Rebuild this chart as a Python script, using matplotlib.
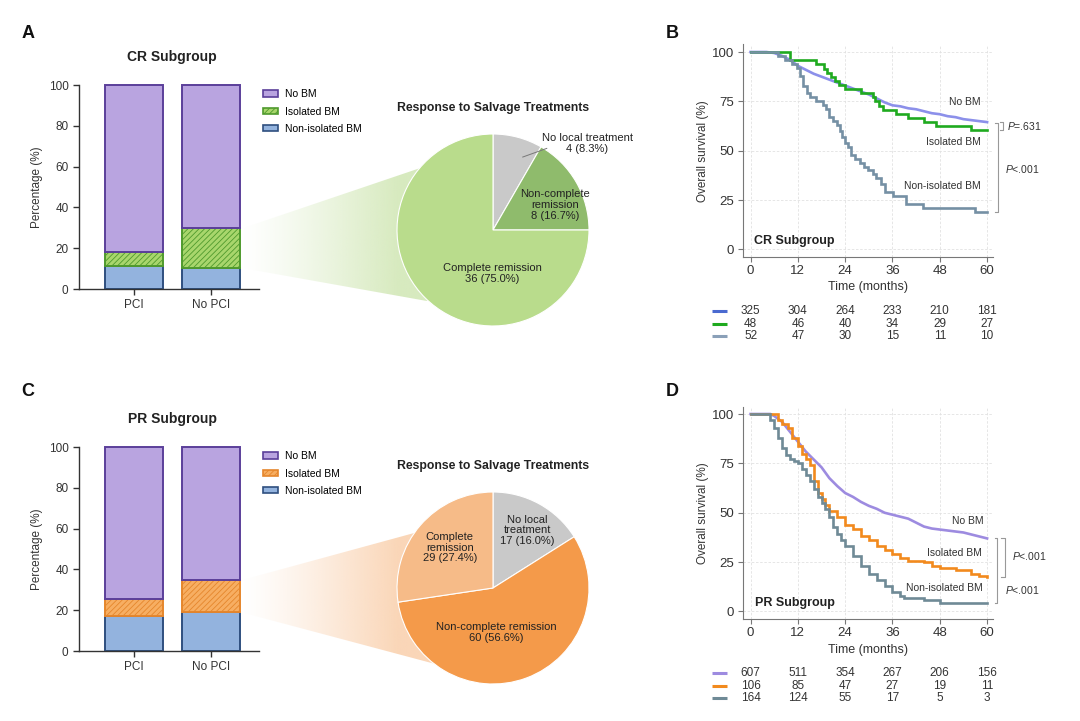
import numpy as np
import matplotlib
matplotlib.use("Agg")
import matplotlib.pyplot as plt
from matplotlib.patches import Polygon, Patch

plt.rcParams["font.family"] = ["Liberation Sans", "DejaVu Sans"]
plt.rcParams["mathtext.fontset"] = "custom"
plt.rcParams["mathtext.it"] = "Liberation Sans:italic"
plt.rcParams["mathtext.rm"] = "Liberation Sans"
plt.rcParams["hatch.linewidth"] = 0.6

W, H = 1080, 721

# ---- bar data (percent of patients)
groups = ["PCI", "No PCI"]
cr_non_isolated = [11.3, 10.3]
cr_isolated = [6.9, 19.4]
pr_non_isolated = [17.4, 18.9]
pr_isolated = [8.2, 15.9]

# ---- pie data
cr_pie_labels = ["No local treatment", "Non-complete\nremission", "Complete remission"]
cr_pie_counts = [4, 8, 36]
pr_pie_labels = ["No local\ntreatment", "Non-complete remission", "Complete\nremission"]
pr_pie_counts = [17, 60, 29]

# ---- survival curves, CR subgroup
cr_t_nobm = [0, 4, 6, 8, 10, 12, 14, 16, 18, 20, 22, 24, 26, 28, 30, 32, 34, 36, 38, 40,
             42, 44, 46, 48, 50, 52, 54, 56, 58, 60]
cr_s_nobm = [100, 100, 99.5, 98, 96, 93, 91, 89, 87.5, 86, 84.5, 83, 81.5, 80, 78.5, 76.5,
             74.5, 73, 72.5, 71.5, 71, 70, 69, 68.5, 67.5, 67, 66, 65.5, 65, 64.5]
cr_t_iso = [0, 10, 16.5, 18.5, 19.5, 20.5, 21.5, 22.5, 24, 28, 31, 31.5, 32.5, 33.5, 37, 40,
            44, 47, 56, 60]
cr_s_iso = [100, 95.8, 93.7, 91.6, 89.5, 87.5, 85.4, 83.3, 81.2, 79.1, 77, 75, 72.9, 70.8,
            68.7, 66.6, 64.5, 62.4, 60.3, 60.3]
cr_t_non = [0, 7, 8.7, 10.4, 11.7, 12.5, 13.3, 14.2, 15, 16.7, 18.4, 19.2, 20, 20.9, 21.8,
            22.6, 23.3, 24, 24.8, 25.6, 26.5, 27.7, 28.7, 29.8, 31, 31.8, 33.2, 34, 36.2,
            39.5, 43.8, 57, 60]
cr_s_non = [100, 98, 96, 94, 92, 88, 83, 79, 77, 75, 73, 71, 67, 65, 63, 60, 57, 54, 52, 48,
            46, 44, 42, 40, 38, 36, 33, 29, 27, 23, 21, 19.2, 19.2]

# ---- survival curves, PR subgroup
pr_t_nobm = [0, 5, 6, 8, 10, 12, 14, 16, 18, 20, 22, 24, 26, 28, 30, 32, 34, 36, 38, 40,
             42, 44, 46, 48, 50, 52, 54, 56, 58, 60]
pr_s_nobm = [100, 100, 99, 96, 91, 86, 81, 77, 73, 67.5, 63.5, 60, 58, 55.5, 53.5, 52, 50,
             49, 48, 47, 45, 43, 42, 41.5, 41, 40.5, 40, 39, 38, 37]
pr_t_iso = [0, 6, 7, 8, 9.5, 10.5, 12, 13, 14, 15, 16, 17, 18, 19, 20, 22, 24, 26, 28, 30,
            32, 34, 36, 38, 40, 44, 46, 48, 52, 56, 58, 60]
pr_s_iso = [100, 100, 97, 95, 93, 88, 84, 80, 77, 74, 66, 60, 57, 54, 51, 48, 44, 42, 38,
            36, 33, 31, 29, 27, 25.5, 25, 23, 22, 21, 19, 18, 17.5]
pr_t_non = [0, 4, 5, 6, 7, 8, 9, 10, 11, 12, 13, 14, 15, 16, 17, 18, 19, 20, 21, 22, 23, 24,
            26, 28, 30, 32, 34, 36, 38, 39, 44, 48, 60]
pr_s_non = [100, 100, 97, 93, 88, 83, 79, 77, 76, 75, 72, 69, 66, 62, 58, 55, 52, 48, 43,
            39, 36, 33, 28, 23, 19, 16, 13, 10, 8, 7, 6, 4.5, 4.5]

# ---- number at risk
risk_months = [0, 12, 24, 36, 48, 60]
cr_risk_nobm = [325, 304, 264, 233, 210, 181]
cr_risk_iso = [48, 46, 40, 34, 29, 27]
cr_risk_non = [52, 47, 30, 15, 11, 10]
pr_risk_nobm = [607, 511, 354, 267, 206, 156]
pr_risk_iso = [106, 85, 47, 27, 19, 11]
pr_risk_non = [164, 124, 55, 17, 5, 3]

BAR_W = 0.76

fig = plt.figure(figsize=(W / 100, H / 100), dpi=100)
fig.patch.set_facecolor("white")

overlay = fig.add_axes([0, 0, 1, 1], zorder=0)
overlay.set_axis_off()


def px_rect(left, top, width, height):
    return [left / W, (H - top - height) / H, width / W, height / H]


def bar_panel(top, non_iso, iso, iso_face, iso_edge, title):
    ax = fig.add_axes(px_rect(79, top, 180, 204), facecolor="none", zorder=2)
    x = np.arange(len(groups))
    mid = [a + b for a, b in zip(non_iso, iso)]
    no_bm = [100 - m for m in mid]
    b1 = ax.bar(x, non_iso, BAR_W, color="#93b3de", edgecolor="#2f4f7f", lw=1.4)
    b2 = ax.bar(x, iso, BAR_W, bottom=non_iso, color=iso_face, edgecolor=iso_edge,
                lw=1.4, hatch="//////")
    b3 = ax.bar(x, no_bm, BAR_W, bottom=mid, color="#b9a4e0", edgecolor="#5b3f9a", lw=1.4)
    for cont in (b1, b2, b3):
        for p in cont:
            p.set_clip_on(False)
    ax.set_xlim(-0.72, 1.63)
    ax.set_ylim(0, 100)
    ax.set_xticks(x)
    ax.set_xticklabels(groups)
    ax.set_yticks(range(0, 101, 20))
    for s in ("top", "right"):
        ax.spines[s].set_visible(False)
    for s in ("left", "bottom"):
        ax.spines[s].set_color("#333333")
        ax.spines[s].set_linewidth(1.0)
    ax.tick_params(labelsize=8.5, colors="#333333", length=4, width=1.0)
    ax.set_ylabel("Percentage (%)", fontsize=8.5, color="#333333", labelpad=4)
    handles = [
        Patch(facecolor="#b9a4e0", edgecolor="#5b3f9a", lw=1.2, label="No BM"),
        Patch(facecolor=iso_face, edgecolor=iso_edge, lw=1.2, hatch="//////", label="Isolated BM"),
        Patch(facecolor="#93b3de", edgecolor="#2f4f7f", lw=1.2, label="Non-isolated BM"),
    ]
    ax.legend(handles=handles, loc="upper left", bbox_to_anchor=(0.99, 1.01), frameon=False,
              fontsize=7.5, handlelength=1.4, handleheight=0.55, labelspacing=0.7,
              handletextpad=0.7, borderaxespad=0.2)
    fig.text(172 / W, 1 - (top - 28) / H, title, fontsize=10, fontweight="bold",
             ha="center", va="center", color="#222222")
    return ax


def pie_panel(cy, labels, counts, colors, label_pos, leader=None):
    size = 250
    ax = fig.add_axes(px_rect(493 - size / 2, cy - size / 2, size, size), facecolor="none",
                      zorder=3)
    ax.pie(counts, colors=colors, startangle=90, counterclock=False, radius=1,
           wedgeprops=dict(edgecolor="white", linewidth=0.8))
    lim = size / 2 / 96
    ax.set_xlim(-lim, lim)
    ax.set_ylim(-lim, lim)
    ax.set_aspect("equal")
    ax.set_axis_off()
    total = sum(counts)
    for lab, c, (lx, ly) in zip(labels, counts, label_pos):
        ax.text(lx, ly, f"{lab}\n{c} ({100 * c / total:.1f}%)", ha="center", va="center",
                fontsize=8, color="#222222", linespacing=1.1)
    if leader is not None:
        ax.plot(leader[0], leader[1], color="#777777", lw=0.7)
    ax.text(0, 1.27, "Response to Salvage Treatments", ha="center", va="center",
            fontsize=8.8, fontweight="bold", color="#222222")
    return ax


def draw_fan(ax_bar, ax_pie, idx, low, high, color, ang_top=140, ang_bot=228):
    x_edge, y_low = ax_bar.transData.transform((idx + BAR_W / 2, low))
    _, y_high = ax_bar.transData.transform((idx + BAR_W / 2, high))
    x_edge += 2
    cx, cy = ax_pie.transData.transform((0, 0))
    r = ax_pie.transData.transform((1, 0))[0] - cx
    a1, a2 = np.radians(ang_top), np.radians(ang_bot)
    p_top = (cx + r * np.cos(a1), cy + r * np.sin(a1))
    p_bot = (cx + r * np.cos(a2), cy + r * np.sin(a2))
    poly = Polygon([(x_edge, y_high), p_top, (cx, cy), p_bot, (x_edge, y_low)],
                   closed=True, facecolor="none", edgecolor="none")
    overlay.add_patch(poly)
    rgb = matplotlib.colors.to_rgb(color)
    xs = np.linspace(x_edge, cx, 400)
    ramp = np.clip((xs - x_edge) / (cx - r - x_edge), 0, 1)
    grad = np.zeros((1, xs.size, 4))
    grad[..., :3] = rgb
    grad[0, :, 3] = ramp ** 1.2 * 0.9
    im = overlay.imshow(grad, extent=[x_edge, cx, min(p_bot[1], y_low),
                                      max(p_top[1], y_high)],
                        aspect="auto", zorder=1, interpolation="bilinear")
    im.set_clip_path(poly)
    overlay.set_xlim(0, W)
    overlay.set_ylim(0, H)


def survival_panel(top, curves, risks, risk_colors, names, name_pos, brackets, sub_label):
    ax = fig.add_axes(px_rect(742.7, top, 250.3, 212.5), facecolor="none", zorder=2)
    for t, s, c, step in curves:
        ax.plot(t, s, color=c, lw=1.9, drawstyle="steps-post" if step else "default",
                solid_joinstyle="miter")
    ax.set_xlim(-2, 61.5)
    ax.set_ylim(-3.8, 103.8)
    ax.set_xticks(risk_months)
    ax.set_yticks([0, 25, 50, 75, 100])
    ax.grid(True, color="#e2e2e2", lw=0.6, ls=(0, (3, 2)))
    ax.set_axisbelow(True)
    for s in ("top", "right"):
        ax.spines[s].set_visible(False)
    for s in ("left", "bottom"):
        ax.spines[s].set_color("#777777")
        ax.spines[s].set_linewidth(0.8)
    ax.tick_params(labelsize=9.5, colors="#777777", labelcolor="#333333", length=3.5, width=0.8,
                   pad=2.5)
    ax.set_xlabel("Time (months)", fontsize=9, color="#333333", labelpad=3)
    ax.set_ylabel("Overall survival (%)", fontsize=8.5, color="#333333", labelpad=2)
    for name, (nx, ny) in zip(names, name_pos):
        ax.text(nx, ny, name, ha="right", va="center", fontsize=7.5, color="#333333")
    for xv, xt, y1, y2, lab, lx, ly in brackets:
        ax.plot([xt, xv, xv, xt], [y1, y1, y2, y2], color="#999999", lw=0.8, clip_on=False)
        ax.text(lx, ly, lab, ha="left", va="center", fontsize=7.5, color="#333333")
    ax.text(sub_label[0], sub_label[1], sub_label[2], ha="left", va="center", fontsize=9,
            fontweight="bold", color="#222222")
    trans = ax.get_xaxis_transform()
    row_y = [-0.256, -0.315, -0.374]
    for row, col, yy in zip(risks, risk_colors, row_y):
        ax.plot([-9.8, -6.0], [yy, yy], color=col, lw=2.2, transform=trans, clip_on=False,
                solid_capstyle="butt")
        for m, n in zip(risk_months, row):
            ax.text(m, yy, str(n), transform=trans, ha="center", va="center", fontsize=8.5,
                    color="#333333")
    return ax


# ---- panel A
ax_a = bar_panel(85, cr_non_isolated, cr_isolated, "#a8d66c", "#4f9a2d", "CR Subgroup")
pie_a = pie_panel(230, cr_pie_labels, cr_pie_counts, ["#c9c9c9", "#8fbb6c", "#b9dc8c"],
                  [(0.98, 0.905), (0.65, 0.26), (-0.01, -0.45)],
                  leader=([0.31, 0.56], [0.76, 0.85]))
draw_fan(ax_a, pie_a, 1, cr_non_isolated[1], cr_non_isolated[1] + cr_isolated[1], "#d3e8b8")

# ---- panel C
ax_c = bar_panel(447, pr_non_isolated, pr_isolated, "#f7ae62", "#e5862c", "PR Subgroup")
pie_c = pie_panel(588, pr_pie_labels, pr_pie_counts, ["#c9c9c9", "#f49a4a", "#f6bb88"],
                  [(0.36, 0.60), (0.03, -0.46), (-0.45, 0.42)])
draw_fan(ax_c, pie_c, 1, pr_non_isolated[1], pr_non_isolated[1] + pr_isolated[1], "#fad2b0",
         ang_top=145, ang_bot=232)

# ---- panel B
survival_panel(
    44.5,
    [(cr_t_nobm, cr_s_nobm, "#8c90ea", False),
     (cr_t_iso, cr_s_iso, "#1faa1f", True),
     (cr_t_non, cr_s_non, "#7590a4", True)],
    [cr_risk_nobm, cr_risk_iso, cr_risk_non],
    ["#4a6ad0", "#1faa1f", "#8aa0b8"],
    ["No BM", "Isolated BM", "Non-isolated BM"],
    [(58.4, 74.5), (58.4, 54.2), (58.4, 31.9)],
    [(64.0, 63.3, 64.5, 60.3, "$P$=.631", 65.0, 62.3),
     (62.8, 62.0, 64.0, 19.2, "$P$<.001", 64.5, 41.0)],
    (0.8, 4.4, "CR Subgroup"),
)

# ---- panel D
survival_panel(
    406.5,
    [(pr_t_nobm, pr_s_nobm, "#9d8be0", False),
     (pr_t_iso, pr_s_iso, "#f28a1d", True),
     (pr_t_non, pr_s_non, "#6f8a96", True)],
    [pr_risk_nobm, pr_risk_iso, pr_risk_non],
    ["#9d8be0", "#f28a1d", "#6f8a96"],
    ["No BM", "Isolated BM", "Non-isolated BM"],
    [(59.0, 45.8), (58.8, 29.5), (59.0, 12.1)],
    [(64.5, 63.6, 37.0, 17.5, "$P$<.001", 66.2, 28.0),
     (62.6, 61.9, 37.0, 4.5, "$P$<.001", 64.5, 11.0)],
    (1.1, 4.5, "PR Subgroup"),
)

# ---- panel letters
for letter, lx, ly in [("A", 28, 33), ("B", 672, 33), ("C", 28, 392), ("D", 672, 392)]:
    fig.text(lx / W, 1 - ly / H, letter, fontsize=13, fontweight="bold", ha="center",
             va="center", color="#111111")

fig.savefig("out.png", dpi=100)
